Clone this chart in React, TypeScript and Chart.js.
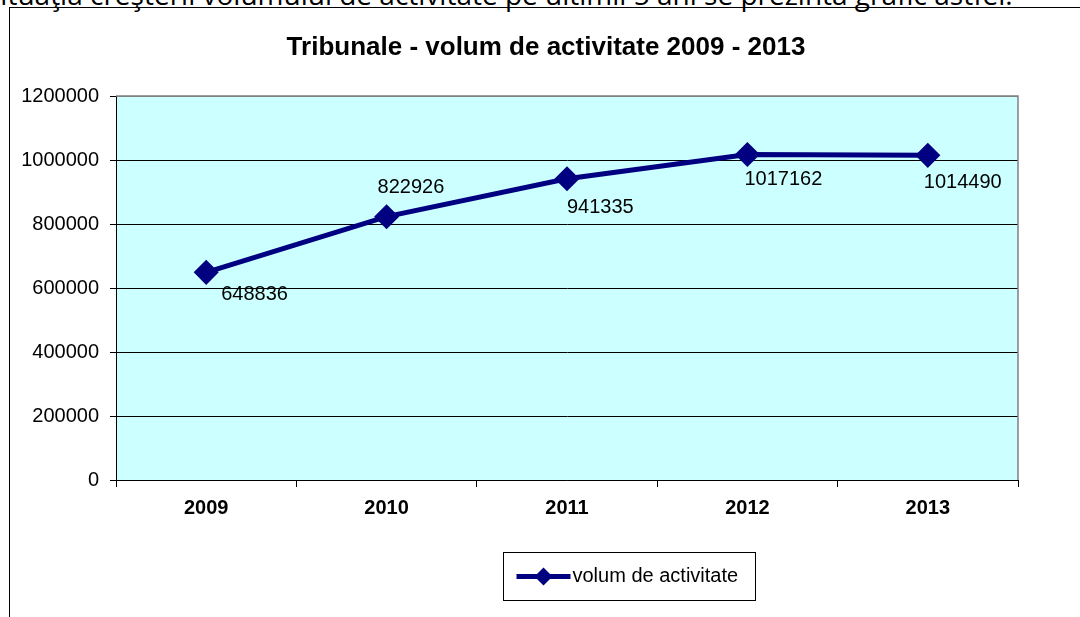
import React, { useEffect, useRef } from "react";
import { Chart, registerables } from "chart.js";

Chart.register(...registerables);

const categories = ["2009", "2010", "2011", "2012", "2013"];
const volumValues = [648836, 822926, 941335, 1017162, 1014490];
const yMin = 0;
const yMax = 1200000;
const yStep = 200000;
const seriesLabel = "volum de activitate";
const chartTitle = "Tribunale - volum de activitate 2009 - 2013";
const introText =
  "Situaţia creşterii volumului de activitate pe ultimii 5 ani se prezintă grafic astfel:";

// label offsets relative to each point (style only)
const labelOffsets = [
  { dx: 15, dy: 22 },
  { dx: -9, dy: -29 },
  { dx: 0, dy: 29 },
  { dx: -3, dy: 25 },
  { dx: -4, dy: 27 },
];

const FONT = "'Liberation Sans', Arial, sans-serif";
const NAVY = "#000080";

export default function App() {
  const ref = useRef<HTMLCanvasElement | null>(null);

  useEffect(() => {
    const canvas = ref.current;
    if (!canvas) return;

    const plotBg = {
      id: "plotBg",
      beforeDraw(chart: any) {
        const { ctx, chartArea: a } = chart;
        ctx.save();
        ctx.fillStyle = "#CCFFFF";
        ctx.fillRect(a.left, a.top, a.right - a.left, a.bottom - a.top);
        ctx.restore();
      },
      beforeDatasetsDraw(chart: any) {
        const { ctx, chartArea: a } = chart;
        ctx.save();
        ctx.strokeStyle = "#808080";
        ctx.lineWidth = 1.5;
        ctx.beginPath();
        ctx.moveTo(a.left, a.top);
        ctx.lineTo(a.right, a.top);
        ctx.lineTo(a.right, a.bottom);
        ctx.stroke();
        ctx.restore();
      },
    };

    const titlePlugin = {
      id: "offsetTitle",
      afterDraw(chart: any) {
        const { ctx } = chart;
        ctx.save();
        ctx.font = `bold 26px ${FONT}`;
        ctx.fillStyle = "#000";
        ctx.textAlign = "center";
        ctx.textBaseline = "middle";
        ctx.fillText(chartTitle, 546, 48);
        ctx.restore();
      },
    };

    const dataLabels = {
      id: "dataLabels",
      afterDatasetsDraw(chart: any) {
        const { ctx } = chart;
        const meta = chart.getDatasetMeta(0);
        ctx.save();
        ctx.font = `20px ${FONT}`;
        ctx.fillStyle = "#000";
        ctx.textAlign = "left";
        ctx.textBaseline = "middle";
        meta.data.forEach((pt: any, i: number) => {
          const off = labelOffsets[i] || { dx: 0, dy: 0 };
          ctx.fillText(String(volumValues[i]), pt.x + off.dx, pt.y + off.dy);
        });
        ctx.restore();
      },
    };

    const boxLegend = {
      id: "boxLegend",
      afterDraw(chart: any) {
        const { ctx } = chart;
        const ds = chart.data.datasets[0];
        const left = 503.5;
        const top = 552.5;
        const w = 252;
        const h = 48;
        const cy = top + h / 2;
        ctx.save();
        ctx.fillStyle = "#fff";
        ctx.fillRect(left, top, w, h);
        ctx.strokeStyle = "#000";
        ctx.lineWidth = 1;
        ctx.strokeRect(left, top, w, h);
        ctx.strokeStyle = ds.borderColor;
        ctx.lineWidth = 5;
        ctx.beginPath();
        ctx.moveTo(left + 13, cy);
        ctx.lineTo(left + 67, cy);
        ctx.stroke();
        ctx.fillStyle = ds.pointBackgroundColor;
        const mx = left + 40;
        const r = 9;
        ctx.beginPath();
        ctx.moveTo(mx, cy - r);
        ctx.lineTo(mx + r, cy);
        ctx.lineTo(mx, cy + r);
        ctx.lineTo(mx - r, cy);
        ctx.closePath();
        ctx.fill();
        ctx.fillStyle = "#000";
        ctx.font = `20px ${FONT}`;
        ctx.textAlign = "left";
        ctx.textBaseline = "middle";
        ctx.fillText(ds.label, left + 69, cy);
        ctx.restore();
      },
    };

    const chart = new Chart(canvas, {
      type: "line",
      data: {
        labels: categories,
        datasets: [
          {
            label: seriesLabel,
            data: volumValues,
            borderColor: NAVY,
            backgroundColor: NAVY,
            pointBackgroundColor: NAVY,
            pointBorderColor: NAVY,
            borderWidth: 5,
            pointStyle: "rectRot",
            pointRadius: 9,
            pointHoverRadius: 9,
            tension: 0,
            fill: false,
          },
        ],
      },
      options: {
        responsive: false,
        animation: false,
        devicePixelRatio: 1,
        layout: { padding: { left: 0, right: 62, top: 96, bottom: 97 } },
        plugins: {
          legend: { display: false },
          tooltip: { enabled: false },
          title: { display: false },
        },
        scales: {
          x: {
            type: "category",
            offset: true,
            grid: {
              offset: true,
              drawOnChartArea: false,
              drawTicks: true,
              tickLength: 7,
              color: "#000",
            },
            border: { color: "#000", width: 1 },
            ticks: {
              color: "#000",
              font: { family: FONT, size: 20, weight: "bold" },
              padding: 9,
              maxRotation: 0,
            },
            afterFit: (s: any) => {
              s.height = 40;
            },
          },
          y: {
            min: yMin,
            max: yMax,
            ticks: {
              stepSize: yStep,
              color: "#000",
              font: { family: FONT, size: 20 },
              padding: 11,
              callback: (v: any) => String(v),
            },
            grid: {
              color: (c: any) => (c.tick && c.tick.value === yMax ? "#808080" : "#000"),
              tickColor: "#000",
              tickLength: 6,
              lineWidth: 1,
            },
            border: { color: "#000", width: 1 },
            afterFit: (s: any) => {
              s.width = 116;
            },
          },
        },
      },
      plugins: [plotBg, dataLabels, boxLegend, titlePlugin],
    });

    return () => chart.destroy();
  }, []);

  return (
    <div
      style={{
        position: "fixed",
        left: 0,
        top: 0,
        width: 1080,
        height: 617,
        background: "#fff",
        overflow: "hidden",
      }}
    >
      <div
        style={{
          position: "absolute",
          left: -15,
          top: -20,
          whiteSpace: "nowrap",
          fontFamily: "'Open Sans', sans-serif",
          fontSize: 28,
          lineHeight: "28px",
          color: "#000",
        }}
      >
        {introText}
      </div>
      <div
        style={{
          position: "absolute",
          left: 9,
          top: 7,
          width: 1100,
          height: 640,
          borderTop: "1px solid #000",
          borderLeft: "1px solid #000",
        }}
      />
      <canvas
        ref={ref}
        width={1080}
        height={617}
        style={{ position: "absolute", left: 0, top: 0, width: 1080, height: 617 }}
      />
    </div>
  );
}
